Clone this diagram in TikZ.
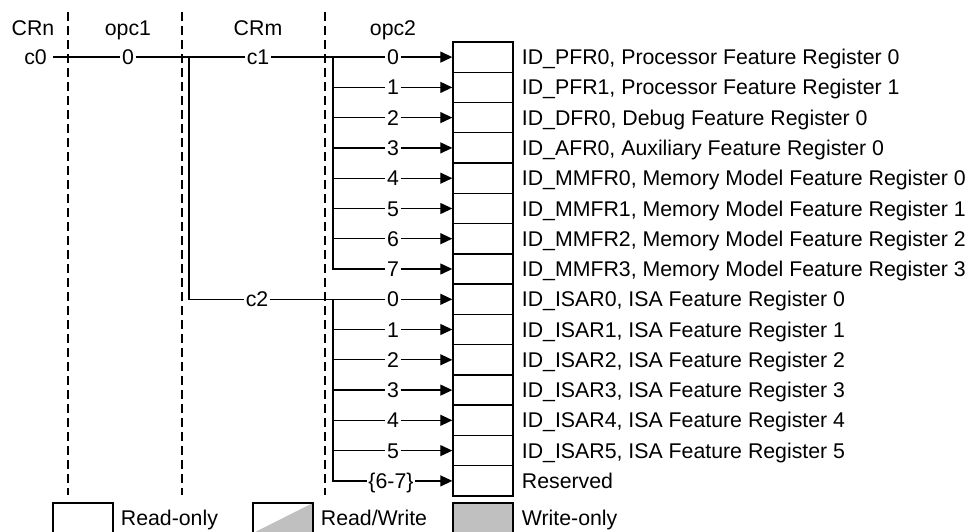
\documentclass[tikz,border=0pt]{standalone}
\usepackage{fontspec}
\setmainfont{Liberation Sans}
\usetikzlibrary{positioning,arrows.meta}
\definecolor{legendgray}{HTML}{C0C0C0}

\begin{document}
\begin{tikzpicture}[x=1pt, y=-1pt,
    font=\fontsize{21.3}{25}\selectfont,
    txt/.style={inner sep=0pt, text height=15pt, text depth=0pt},
    lbl/.style={txt, fill=white, inner xsep=1.5pt},
    desc/.style={txt, anchor=west},
    regbox/.style={draw, line width=1.4pt, minimum width=60pt, minimum height=30.27pt, inner sep=0pt},
    fieldsep/.style={line width=2.8pt, dash pattern=on 9pt off 5pt},
    conn/.style={line width=1.3pt},
    arr/.style={conn, -{Triangle[length=12pt,width=11pt]}}]
    \useasboundingbox (0,0) rectangle (977,531);
    \clip (0,0) rectangle (977,531);

    \node[txt] (hCRn) at (33,28) {CRn};
    \node[txt] (hopc1) at (128,28) {opc1};
    \node[txt] (hCRm) at (258,28) {CRm};
    \node[txt] (hopc2) at (393,28) {opc2};

    \draw[fieldsep] (68,12) -- (68,495);
    \draw[fieldsep] (182,12) -- (182,495);
    \draw[fieldsep] (325,12) -- (325,495);

    \node[regbox] (r0) at (483,57.1) {};
    \node[regbox] (r1) at (483,87.4) {};
    \node[regbox] (r2) at (483,117.6) {};
    \node[regbox] (r3) at (483,147.9) {};
    \node[regbox] (r4) at (483,178.2) {};
    \node[regbox] (r5) at (483,208.5) {};
    \node[regbox] (r6) at (483,238.7) {};
    \node[regbox] (r7) at (483,269.0) {};
    \node[regbox] (r8) at (483,299.3) {};
    \node[regbox] (r9) at (483,329.5) {};
    \node[regbox] (r10) at (483,359.8) {};
    \node[regbox] (r11) at (483,390.1) {};
    \node[regbox] (r12) at (483,420.3) {};
    \node[regbox] (r13) at (483,450.6) {};
    \node[regbox] (r14) at (483,480.9) {};

    \node[desc, right=8pt of r0] (d0) {ID\_PFR0, Processor Feature Register 0};
    \node[desc, right=8pt of r1] (d1) {ID\_PFR1, Processor Feature Register 1};
    \node[desc, right=8pt of r2] (d2) {ID\_DFR0, Debug Feature Register 0};
    \node[desc, right=8pt of r3] (d3) {ID\_AFR0, Auxiliary Feature Register 0};
    \node[desc, right=8pt of r4] (d4) {ID\_MMFR0, Memory Model Feature Register 0};
    \node[desc, right=8pt of r5] (d5) {ID\_MMFR1, Memory Model Feature Register 1};
    \node[desc, right=8pt of r6] (d6) {ID\_MMFR2, Memory Model Feature Register 2};
    \node[desc, right=8pt of r7] (d7) {ID\_MMFR3, Memory Model Feature Register 3};
    \node[desc, right=8pt of r8] (d8) {ID\_ISAR0, ISA Feature Register 0};
    \node[desc, right=8pt of r9] (d9) {ID\_ISAR1, ISA Feature Register 1};
    \node[desc, right=8pt of r10] (d10) {ID\_ISAR2, ISA Feature Register 2};
    \node[desc, right=8pt of r11] (d11) {ID\_ISAR3, ISA Feature Register 3};
    \node[desc, right=8pt of r12] (d12) {ID\_ISAR4, ISA Feature Register 4};
    \node[desc, right=8pt of r13] (d13) {ID\_ISAR5, ISA Feature Register 5};
    \node[desc, right=8pt of r14] (d14) {Reserved};

    \node[txt, anchor=east, inner xsep=6pt] (c0) at (53,57.1) {c0};
    \node[lbl] (op0) at (128,57.1) {0};
    \node[lbl] (c1) at (258,57.1) {c1};
    \node[lbl] (c2) at (257,299.3) {c2};
    \coordinate (j1) at (189,57.1);
    \coordinate (k1) at (333,57.1);
    \coordinate (k8) at (333,299.3);

    \node[lbl] (o0) at (393,57.1) {0};
    \node[lbl] (o1) at (393,87.4) {1};
    \node[lbl] (o2) at (393,117.6) {2};
    \node[lbl] (o3) at (393,147.9) {3};
    \node[lbl] (o4) at (393,178.2) {4};
    \node[lbl] (o5) at (393,208.5) {5};
    \node[lbl] (o6) at (393,238.7) {6};
    \node[lbl] (o7) at (393,269.0) {7};
    \node[lbl] (o8) at (393,299.3) {0};
    \node[lbl] (o9) at (393,329.5) {1};
    \node[lbl] (o10) at (393,359.8) {2};
    \node[lbl] (o11) at (393,390.1) {3};
    \node[lbl] (o12) at (393,420.3) {4};
    \node[lbl] (o13) at (393,450.6) {5};
    \node[lbl] (o14) at (391,480.9) {\{6-7\}};

    \draw[conn] (c0) -- (op0) -- (c1) -- (o0);
    \draw[conn] (j1) |- (c2);
    \draw[conn] (c2) -- (o8);

    \draw[conn] (k1) |- (o7);
    \draw[conn] (k1 |- o1) -- (o1);
    \draw[conn] (k1 |- o2) -- (o2);
    \draw[conn] (k1 |- o3) -- (o3);
    \draw[conn] (k1 |- o4) -- (o4);
    \draw[conn] (k1 |- o5) -- (o5);
    \draw[conn] (k1 |- o6) -- (o6);
    \draw[conn] (k8) |- (o14);
    \draw[conn] (k8 |- o9) -- (o9);
    \draw[conn] (k8 |- o10) -- (o10);
    \draw[conn] (k8 |- o11) -- (o11);
    \draw[conn] (k8 |- o12) -- (o12);
    \draw[conn] (k8 |- o13) -- (o13);

    \draw[arr] (o0) -- (r0);
    \draw[arr] (o1) -- (r1);
    \draw[arr] (o2) -- (r2);
    \draw[arr] (o3) -- (r3);
    \draw[arr] (o4) -- (r4);
    \draw[arr] (o5) -- (r5);
    \draw[arr] (o6) -- (r6);
    \draw[arr] (o7) -- (r7);
    \draw[arr] (o8) -- (r8);
    \draw[arr] (o9) -- (r9);
    \draw[arr] (o10) -- (r10);
    \draw[arr] (o11) -- (r11);
    \draw[arr] (o12) -- (r12);
    \draw[arr] (o13) -- (r13);
    \draw[arr] (o14) -- (r14);

    \node[regbox] (ro) at (83,518) {};
    \node[desc, right=7pt of ro] (rot) {Read-only};
    \node[regbox, path picture={\fill[legendgray] (path picture bounding box.south west) -- (path picture bounding box.south east) -- (path picture bounding box.north east) -- cycle;}] (rw) at (283,518) {};
    \node[desc, right=7pt of rw] (rwt) {Read/Write};
    \node[regbox, fill=legendgray] (wo) at (483,518) {};
    \node[desc, right=8pt of wo] (wot) {Write-only};
  \end{tikzpicture}
\end{document}
